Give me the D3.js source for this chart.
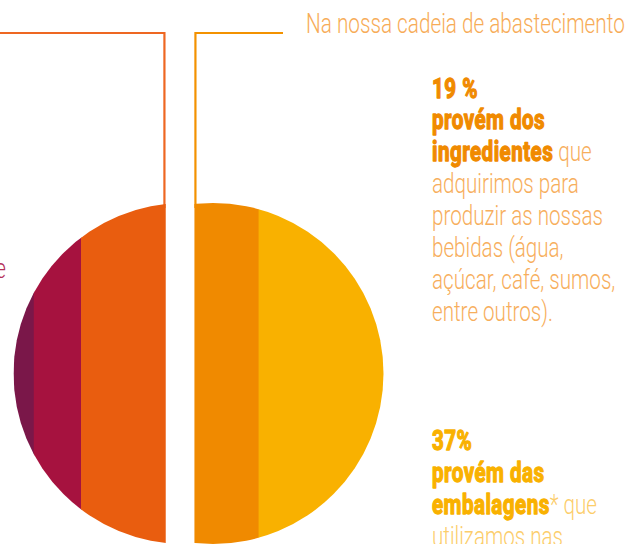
<!DOCTYPE html>
<html>
<head>
<meta charset="utf-8">
<script src="https://cdn.jsdelivr.net/npm/d3@7"></script>
<style>
  body { margin: 0; background: #fff; }
  svg { display: block; }
  text { font-family: Roboto, "Liberation Sans", sans-serif; }
  .light { font-weight: 300; }
  .bold { font-weight: 700; stroke-width: 1.3px; stroke-linejoin: round; }
</style>
</head>
<body>
<svg width="630" height="544"></svg>
<script>
// shares of the footprint, drawn as vertical strips of one circle
const segments = ['segmento 1', 'segmento 2', 'segmento 3', 'ingredientes', 'embalagens'];
const shares = [6, 14, 25, 19, 37];
const sides = ['esquerda', 'esquerda', 'esquerda', 'direita', 'direita'];
const palette = ['#7a1749', '#a6123f', '#e95d0f', '#f08a00', '#f9b100'];

const headerText = 'Na nossa cadeia de abastecimento';
const ingredientsLines = [
    [['19 %', true]],
    [['provém dos', true]],
    [['ingredientes', true], [' que', false]],
    [['adquirimos para', false]],
    [['produzir as nossas', false]],
    [['bebidas (água,', false]],
    [['açúcar, café, sumos,', false]],
    [['entre outros).', false]]
];
const packagingLines = [
    [['37%', true]],
    [['provém das', true]],
    [['embalagens', true], ['* que', false]],
    [['utilizamos nas', false]]
];

const svg = d3.select('svg');
const width = +svg.attr('width');
const height = +svg.attr('height');

const render = () => {
    const r = 170.5;
    const cx = 198.5;
    const cy = 373.5;
    const gap = 29;

    const data = segments.map((s, i) => ({
        name: s,
        value: shares[i],
        side: sides[i],
        start: d3.sum(shares.slice(0, i))
    }));

    const xScale = d3.scaleLinear()
        .domain([0, d3.sum(shares)])
        .range([cx - r, cx + r]);

    const colorScale = d3.scaleOrdinal()
        .domain(segments)
        .range(palette);

    const offset = side => side === 'esquerda' ? -gap / 2 : gap / 2;

    const split = xScale(d3.sum(data.filter(d => d.side === 'esquerda'), d => d.value));
    const leftEdge = split - gap / 2;
    const rightEdge = split + gap / 2;
    // y of the circle top at the split
    const topAtSplit = cy - Math.sqrt(r * r - (split - cx) * (split - cx));

    // connector lines (drawn under the pieces)
    const lineY = 33;
    svg.append('path')
        .attr('d', `M0,${lineY} H${leftEdge - 1} V${topAtSplit + 4}`)
        .attr('fill', 'none')
        .attr('stroke', '#ee6722')
        .attr('stroke-width', 2.2);

    svg.append('path')
        .attr('d', `M283,${lineY} H${rightEdge + 1} V${topAtSplit + 4}`)
        .attr('fill', 'none')
        .attr('stroke', '#f39200')
        .attr('stroke-width', 2.2);

    // clip circle is in the group's own (shifted) coordinates
    const defs = svg.append('defs');
    defs.append('clipPath')
        .attr('id', 'clip-circle')
        .append('circle')
        .attr('cx', cx)
        .attr('cy', cy)
        .attr('r', r);

    ['esquerda', 'direita'].forEach(side => {
        const sideData = data.filter(d => d.side === side);
        const last = sideData[sideData.length - 1];
        const g = svg.append('g')
            .attr('transform', `translate(${offset(side)}, 0)`)
            .append('g')
            .attr('clip-path', 'url(#clip-circle)');
        g.selectAll('rect')
            .data(sideData)
            .enter().append('rect')
            .attr('x', d => xScale(d.start))
            // small overlap hides seams between strips
            .attr('width', d => xScale(d.start + d.value) - xScale(d.start) + (d === last && side === 'esquerda' ? 0.3 : 0.6))
            .attr('y', cy - r)
            .attr('height', 2 * r)
            .attr('fill', d => colorScale(d.name));
    });

    // header
    const header = svg.append('text')
        .attr('class', 'light')
        .attr('font-size', 27)
        .attr('fill', '#f7ac58')
        .text(headerText);
    const hs = 319 / header.node().getComputedTextLength();
    header.attr('transform', `translate(306, ${lineY}) scale(${hs}, 1)`);

    // text blocks
    const block = (lines, boldColor, lightColor) => {
        const t = svg.append('text').attr('font-size', 27);
        lines.forEach((line, i) => {
            line.forEach((part, j) => {
                const ts = t.append('tspan')
                    .attr('class', part[1] ? 'bold' : 'light')
                    .attr('fill', part[1] ? boldColor : lightColor)
                    .attr('stroke', part[1] ? boldColor : 'none')
                    .attr('letter-spacing', part[1] ? 0.6 : 0)
                    .text(part[0]);
                if (j === 0) ts.attr('x', 0).attr('y', i * 32);
            });
        });
        return t;
    };

    const tmp = svg.append('text').attr('class', 'light').attr('font-size', 27).text('produzir as nossas');
    const bs = 171 / tmp.node().getComputedTextLength();
    tmp.remove();

    block(ingredientsLines, '#f08a00', '#f7ae5c')
        .attr('transform', `translate(432, 97.5) scale(${bs}, 1)`);
    block(packagingLines, '#f9b100', '#fccd6a')
        .attr('transform', `translate(432, 450) scale(${bs}, 1)`);

    // cut-off label on the left edge
    svg.append('text')
        .attr('class', 'light')
        .attr('font-size', 27)
        .attr('fill', '#b5305a')
        .attr('text-anchor', 'end')
        .attr('transform', `translate(6, 278) scale(${bs}, 1)`)
        .text('de');
};

render();
</script>
</body>
</html>
